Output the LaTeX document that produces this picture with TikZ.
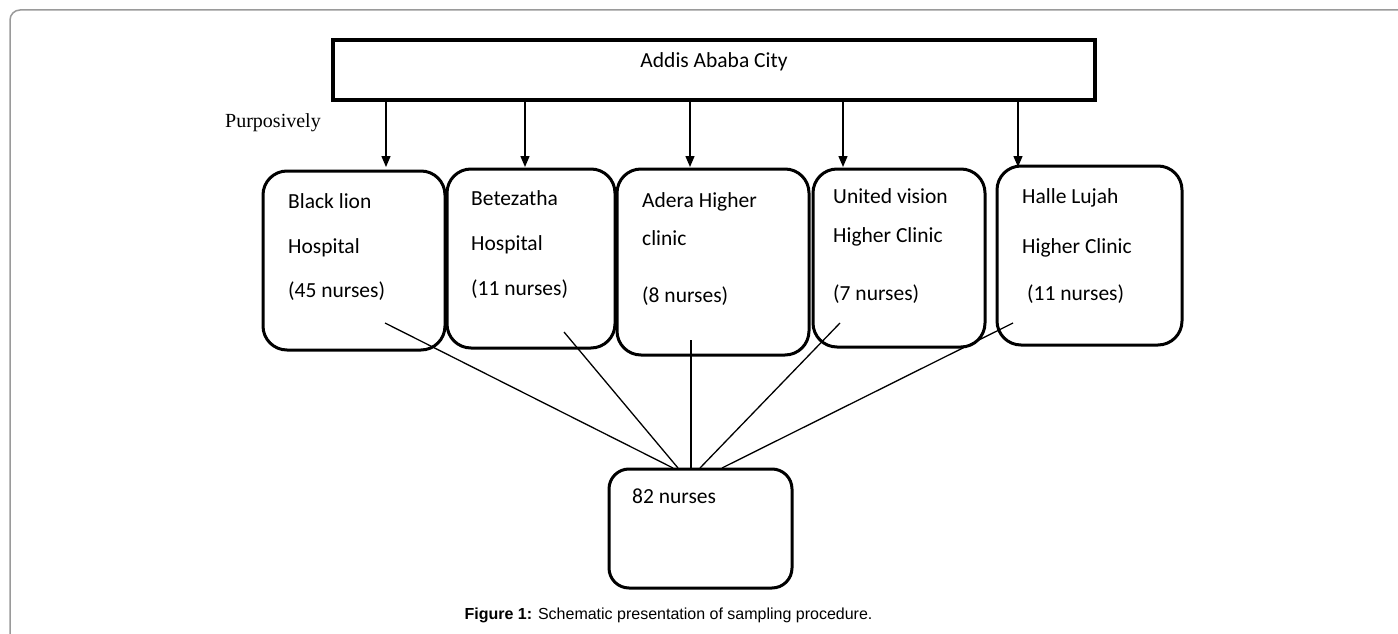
\documentclass[tikz,border=0pt]{standalone}
\usepackage{fontspec}
\usetikzlibrary{arrows.meta}
\newfontfamily\calfont{Carlito}
\newfontfamily\tmsfont{Liberation Serif}
\newfontfamily\arlfont{Liberation Sans}
\definecolor{framegray}{HTML}{9A9A9A}
\tikzset{
  boxst/.style={draw=black, line width=3pt, rounded corners=24pt, inner sep=0pt, outer sep=0pt},
  topst/.style={draw=black, line width=3.2pt, inner sep=0pt, outer sep=0pt},
  txt/.style={inner sep=0pt, anchor=base west, font=\calfont\fontsize{21.5}{25}\selectfont},
  arr/.style={line width=1.4pt, -{Triangle[length=11pt,width=9pt]}},
  conn/.style={line width=1.3pt}
}
\begin{document}
\begin{tikzpicture}[x=1pt,y=-1pt]
\useasboundingbox (0,0) rectangle (1398,634);
% frame
\draw[framegray, line width=1.5pt, rounded corners=10pt] (10,640) -- (10,10) -- (1405,10);
% top box
\node[topst, minimum width=762pt, minimum height=60pt] (top) at (714,70) {};
\node[inner sep=0pt, anchor=base, font=\calfont\fontsize{21.5}{25}\selectfont] (toptxt) at (714,68) {Addis Ababa City};
\node[inner sep=0pt, anchor=base west, font=\tmsfont\fontsize{20}{24}\selectfont] (purp) at (225,128) {Purposively};
% hospital boxes
\node[boxst, minimum width=182pt, minimum height=179pt] (h1) at (354,260.5) {};
\node[boxst, minimum width=168pt, minimum height=179pt] (h2) at (531,258.5) {};
\node[boxst, minimum width=192pt, minimum height=186pt] (h3) at (713,262) {};
\node[boxst, minimum width=172pt, minimum height=178pt] (h4) at (899,258) {};
\node[boxst, minimum width=185pt, minimum height=179pt] (h5) at (1089.5,255.5) {};
\node[boxst, rounded corners=20pt, minimum width=183pt, minimum height=119pt] (tot) at (700.5,528.5) {};
% texts
\node[txt] (t1a) at (288,208) {Black lion};
\node[txt] (t1b) at (288,253) {Hospital};
\node[txt] (t1c) at (288,297) {(45 nurses)};
\node[txt] (t2a) at (471,205) {Betezatha};
\node[txt] (t2b) at (471,250) {Hospital};
\node[txt] (t2c) at (471,295) {(11 nurses)};
\node[txt] (t3a) at (642,207) {Adera Higher};
\node[txt] (t3b) at (642,245) {clinic};
\node[txt] (t3c) at (642,302) {(8 nurses)};
\node[txt] (t4a) at (833,203) {United vision};
\node[txt] (t4b) at (833,242) {Higher Clinic};
\node[txt] (t4c) at (833,300) {(7 nurses)};
\node[txt] (t5a) at (1022,203) {Halle Lujah};
\node[txt] (t5b) at (1022,253) {Higher Clinic};
\node[txt] (t5c) at (1027,300) {(11 nurses)};
\node[txt] (t6) at (632,503) {82 nurses};
% arrows
\coordinate (a1) at (386,167);
\coordinate (a2) at (525,167);
\coordinate (a3) at (690,167);
\coordinate (a4) at (843,167);
\coordinate (a5) at (1018,167);
\foreach \i in {1,...,5} { \draw[arr] (top.south -| a\i) -- (a\i); }
% connectors
\coordinate (s1) at (385,323);
\coordinate (s2) at (564,332);
\coordinate (s3) at (691,340);
\coordinate (s4) at (840,323);
\coordinate (s5) at (1013,323);
\coordinate (e1) at (673,468);
\coordinate (e2) at (678,468);
\coordinate (e3) at (691,468);
\coordinate (e4) at (700,468);
\coordinate (e5) at (722,468);
\foreach \i in {1,...,5} { \draw[conn] (s\i) -- (e\i); }
% caption
\node[inner sep=0pt, anchor=base, font=\arlfont\fontsize{16}{19}\selectfont] (cap) at (668.5,619) {\textbf{Figure 1:} Schematic presentation of sampling procedure.};
\end{tikzpicture}
\end{document}
